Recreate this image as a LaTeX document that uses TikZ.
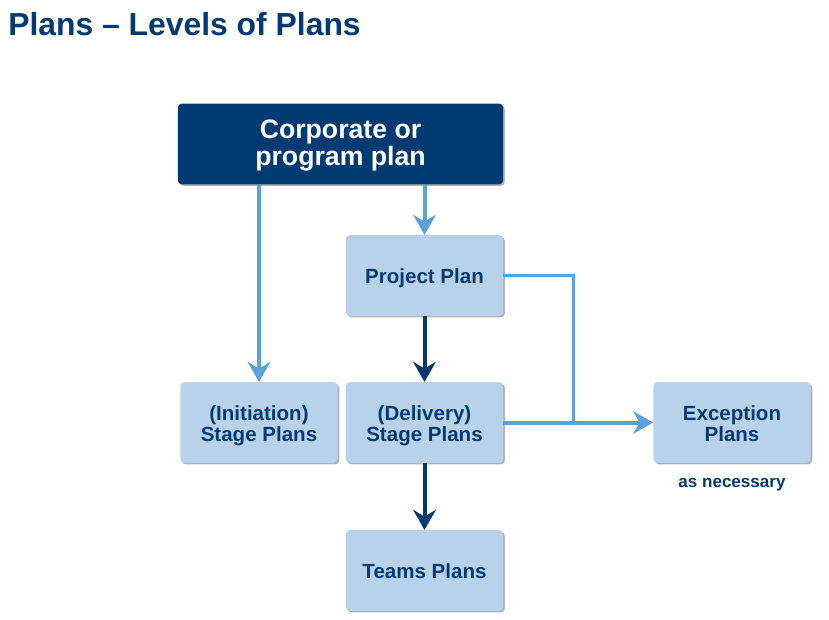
\documentclass[tikz,border=0pt]{standalone}
\usepackage{fontspec}
\setmainfont{Liberation Sans}
\usetikzlibrary{arrows.meta,shadows}
\definecolor{navy}{HTML}{003A73}
\definecolor{boxfill}{HTML}{B9D2EB}
\definecolor{lblue}{HTML}{5AA2D8}
\newcommand{\bxtext}[2][3pt]{\raisebox{-#1}[\height][\depth]{\begin{tabular}{@{}c@{}}#2\end{tabular}}}
\begin{document}
\begin{tikzpicture}[x=0.75pt,y=-0.75pt,
  box/.style={rounded corners=3pt, minimum width=118pt, minimum height=60.5pt,
    inner sep=0pt, font=\bfseries\fontsize{15.4}{16}\selectfont,
    text=navy, fill=boxfill,
    drop shadow={shadow xshift=1.2pt, shadow yshift=-1.2pt, fill=black, opacity=0.3}},
  topbox/.style={box, minimum width=244pt, fill=navy, text=white,
    font=\bfseries\fontsize{20}{19.5}\selectfont},
  tip/.style={-{Stealth[length=15pt,width=17pt,inset=5pt]}},
  lightline/.style={draw=lblue, line width=3pt},
  thinline/.style={draw=lblue, line width=1.9pt},
  darkline/.style={draw=navy, line width=3pt},
]
\useasboundingbox (0,0) rectangle (829,619);
\node[anchor=base west, text=navy, font=\bfseries\fontsize{23.9}{24}\selectfont, inner sep=0pt] (title) at (8,35) {Plans – Levels of Plans};
\node[topbox] (corp) at (340.5,144) {\bxtext[2pt]{Corporate or\\program plan}};
\node[box] (proj) at (424.5,275.5) {\bxtext{Project Plan}};
\node[box] (init) at (259,422.5) {\bxtext{(Initiation)\\Stage Plans}};
\node[box] (deliv) at (424.5,422.5) {\bxtext{(Delivery)\\Stage Plans}};
\node[box] (exc) at (732,422.5) {\bxtext{Exception\\Plans}};
\node[box] (teams) at (424.5,570.5) {\bxtext{Teams Plans}};
\node[text=navy, font=\bfseries\fontsize{12.8}{13}\selectfont, inner sep=0pt] (asnec) at (732,485) {as necessary};
\path (deliv.east) ++(70,0) coordinate (j);
\draw[lightline, tip] (corp.south -| init) -- (init.north);
\draw[lightline, tip] (corp.south -| proj) -- (proj.north);
\draw[darkline, tip] (proj.south) -- (deliv.north);
\draw[darkline, tip] (deliv.south) -- (teams.north);
\draw[thinline] (proj.east) -| (j);
\draw[lightline, tip] (deliv.east) -- (exc.west);
\end{tikzpicture}
\end{document}
